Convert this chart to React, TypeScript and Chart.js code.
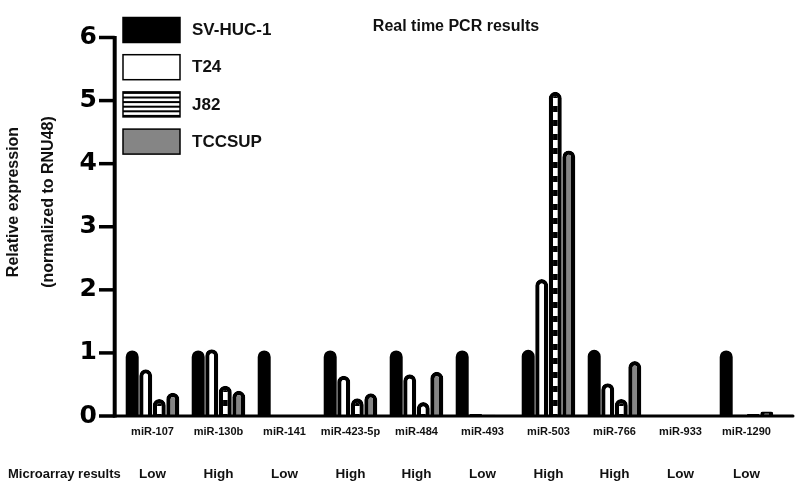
import React, { useEffect, useRef } from 'react';
import { Chart, registerables } from 'chart.js';
Chart.register(...registerables);

const categories = ['miR-107', 'miR-130b', 'miR-141', 'miR-423-5p', 'miR-484', 'miR-493', 'miR-503', 'miR-766', 'miR-933', 'miR-1290'];
const microarray = ['Low', 'High', 'Low', 'High', 'High', 'Low', 'High', 'High', 'Low', 'Low'];
const seriesLabels = ['SV-HUC-1', 'T24', 'J82', 'TCCSUP'];
const svhuc1 = [1.04, 1.04, 1.04, 1.04, 1.04, 1.04, 1.05, 1.05, 0, 1.04];
const t24 = [0.74, 1.06, 0, 0.64, 0.66, 0.03, 2.17, 0.52, 0, 0.02];
const j82 = [0.27, 0.48, 0, 0.28, 0.22, 0.02, 5.14, 0.27, 0, 0.03];
const tccsup = [0.37, 0.4, 0, 0.36, 0.7, 0, 4.21, 0.87, 0, 0.07];
const yTicks = [0, 1, 2, 3, 4, 5, 6];
const chartTitle = 'Real time PCR results';
const yTitleLines = ['Relative expression', '(normalized to RNU48)'];
const rowTitle = 'Microarray results';

const FONT = '"Liberation Sans", Arial, sans-serif';

function makeStripePattern(ctx: CanvasRenderingContext2D) {
  const c = document.createElement('canvas');
  c.width = 4;
  c.height = 14;
  const p = c.getContext('2d')!;
  p.fillStyle = '#ffffff';
  p.fillRect(0, 0, 4, 8);
  p.fillStyle = '#000000';
  p.fillRect(0, 8, 4, 6);
  return ctx.createPattern(c, 'repeat');
}

export default function App() {
  const ref = useRef<HTMLCanvasElement>(null);

  useEffect(() => {
    const canvas = ref.current!;
    const ctx = canvas.getContext('2d')!;
    const stripe = makeStripePattern(ctx) || '#ffffff';
    const radius = { topLeft: 7, topRight: 7, bottomLeft: 0, bottomRight: 0 };
    const fills = ['#000000', '#ffffff', stripe, '#858585'];
    const borders = [0, 4.3, 4.3, 4.3];
    const series = [svhuc1, t24, j82, tccsup];

    const decor = {
      id: 'decor',
      afterDatasetsDraw(chart: any) {
        const c = chart.ctx as CanvasRenderingContext2D;
        const y = chart.scales.y;
        const area = chart.chartArea;
        const axX = area.left - 4.8;
        const y0 = y.getPixelForValue(0);
        const yTop = y.getPixelForValue(yTicks[yTicks.length - 1]);
        c.save();
        c.strokeStyle = '#000000';
        c.lineWidth = 4;
        c.beginPath();
        c.moveTo(axX, yTop - 1.5);
        c.lineTo(axX, y0 + 1.5);
        c.stroke();
        c.lineWidth = 3.5;
        yTicks.forEach((v) => {
          const py = y.getPixelForValue(v);
          c.beginPath();
          c.moveTo(99, py);
          c.lineTo(axX, py);
          c.stroke();
        });
        c.lineWidth = 3;
        c.lineCap = 'round';
        c.beginPath();
        c.moveTo(axX, y0);
        c.lineTo(793, y0);
        c.stroke();
        c.restore();
      },
      afterDraw(chart: any) {
        const c = chart.ctx as CanvasRenderingContext2D;
        const x = chart.scales.x;
        c.save();
        c.fillStyle = '#111111';
        c.font = `bold 16px ${FONT}`;
        c.textAlign = 'center';
        c.textBaseline = 'middle';
        c.fillText(chartTitle, 456, 27);
        c.font = `bold 13px ${FONT}`;
        c.textAlign = 'left';
        c.fillText(rowTitle, 8, 474);
        c.font = `bold 13.5px ${FONT}`;
        c.textAlign = 'center';
        microarray.forEach((t, i) => {
          c.fillText(t, x.getPixelForValue(i), 474);
        });
        c.font = `bold 16px ${FONT}`;
        const xs = [14, 49];
        yTitleLines.forEach((t, i) => {
          c.save();
          c.translate(xs[i], 202);
          c.rotate(-Math.PI / 2);
          c.textAlign = 'center';
          c.textBaseline = 'middle';
          c.fillText(t, 0, 0);
          c.restore();
        });
        const bx = 123, bw = 57, bh = 25;
        chart.data.datasets.forEach((ds: any, i: number) => {
          const top = 17.5 + i * 37.2;
          if (i === 2) {
            c.fillStyle = '#ffffff';
            c.fillRect(bx, top, bw, bh);
            c.fillStyle = '#000000';
            for (let k = 0; k < 6; k++) {
              c.fillRect(bx, top + k * ((bh - 2) / 5), bw, 2);
            }
          } else {
            c.fillStyle = ds.backgroundColor;
            c.fillRect(bx, top, bw, bh);
          }
          c.strokeStyle = '#000000';
          c.lineWidth = 1.5;
          c.strokeRect(bx, top, bw, bh);
          c.fillStyle = '#111111';
          c.font = `bold 17px ${FONT}`;
          c.textAlign = 'left';
          c.textBaseline = 'middle';
          c.fillText(ds.label, 192, top + bh / 2 + 0.5);
        });
        c.restore();
      },
    };

    const chart = new Chart(canvas, {
      type: 'bar',
      data: {
        labels: categories,
        datasets: seriesLabels.map((label, i) => ({
          label,
          data: series[i],
          backgroundColor: fills[i] as any,
          borderColor: '#000000',
          borderWidth: borders[i],
          borderSkipped: 'bottom' as const,
          borderRadius: radius,
          inflateAmount: 0,
          categoryPercentage: 0.82,
          barPercentage: 0.96,
        })),
      },
      options: {
        animation: false,
        responsive: true,
        maintainAspectRatio: false,
        layout: { padding: { top: 16, right: 20.5, left: 0, bottom: 0 } },
        plugins: {
          legend: { display: false },
          tooltip: { enabled: false },
          title: { display: false },
        },
        scales: {
          x: {
            grid: { display: false, drawTicks: false },
            border: { display: false },
            ticks: {
              color: '#111111',
              font: { family: FONT, size: 11, weight: 'bold' },
              padding: 9,
              autoSkip: false,
              maxRotation: 0,
            },
            afterFit: (s: any) => { s.height = 70; },
          },
          y: {
            min: 0,
            max: 6,
            grid: { display: false, drawTicks: false },
            border: { display: false },
            ticks: {
              stepSize: 1,
              color: '#000000',
              font: { family: '"DejaVu Sans", sans-serif', size: 25, weight: 'bold' },
              padding: 22.5,
            },
            afterFit: (s: any) => { s.width = 119.5; },
          },
        },
      },
      plugins: [decor],
    });
    return () => chart.destroy();
  }, []);

  return (
    <div style={{ position: 'fixed', left: 0, top: 0, width: 800, height: 486, background: '#ffffff' }}>
      <canvas ref={ref} />
    </div>
  );
}
